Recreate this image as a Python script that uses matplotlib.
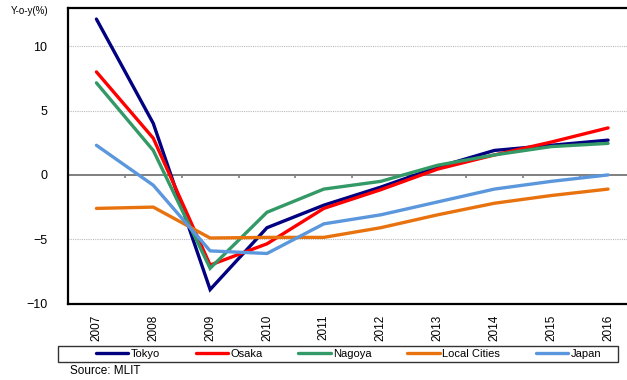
import matplotlib
matplotlib.use("Agg")
import matplotlib.pyplot as plt
from matplotlib.patches import Rectangle
import numpy as np

plt.rcParams['font.family'] = ['Liberation Sans', 'DejaVu Sans']

years = ["2007", "2008", "2009", "2010", "2011", "2012", "2013", "2014", "2015", "2016"]

tokyo = [12.1, 4.0, -8.9, -4.1, -2.35, -0.95, 0.6, 1.9, 2.3, 2.7]
osaka = [8.0, 2.85, -7.0, -5.35, -2.6, -1.15, 0.45, 1.55, 2.55, 3.65]
nagoya = [7.15, 1.9, -7.25, -2.9, -1.1, -0.5, 0.75, 1.55, 2.2, 2.45]
local_cities = [-2.6, -2.5, -4.9, -4.85, -4.85, -4.1, -3.1, -2.2, -1.6, -1.1]
japan = [2.3, -0.8, -5.9, -6.1, -3.8, -3.1, -2.1, -1.1, -0.5, 0.0]

y_ticks = [10, 5, 0, -5, -10]
y_tick_labels = ["10", "5", "0", "\u22125", "\u221210"]

series = [
    ("Tokyo", tokyo, "#000080"),
    ("Osaka", osaka, "#FF0000"),
    ("Nagoya", nagoya, "#339966"),
    ("Local Cities", local_cities, "#E8730E"),
    ("Japan", japan, "#5B97DC"),
]

fig = plt.figure(figsize=(6.27, 3.80), dpi=100)
ax = fig.add_axes([68 / 627, 76.3 / 380, 568.5 / 627, 296.2 / 380])

x = np.arange(len(years))

# dotted horizontal gridlines and the zero baseline
for yv in (10, 5, -5):
    ax.axhline(yv, color="#BBBBBB", lw=0.8, ls=(0, (1, 1)), zorder=0)
ax.axhline(0, color="#7F7F7F", lw=1.4, zorder=1)
# category boundary ticks hanging below the zero baseline
ax.vlines(np.arange(len(years) - 1) + 0.5, -0.25, 0, color="#7F7F7F", lw=1.2, zorder=1)

handles = []
for name, vals, col in series:
    h, = ax.plot(x, vals, color=col, lw=2.4, label=name, solid_capstyle="round",
                 solid_joinstyle="miter", zorder=3)
    handles.append(h)

ax.set_xlim(-0.5, len(years) - 0.5)
ax.set_ylim(-10, 13)
ax.set_yticks(y_ticks)
ax.set_yticklabels(y_tick_labels, fontsize=9)
ax.tick_params(axis="y", length=0, pad=15)
ax.set_xticks(x)
ax.set_xticklabels(years, rotation=90, fontsize=8.5)
ax.tick_params(axis="x", length=0, pad=8)

for side in ("top", "left", "bottom", "right"):
    ax.spines[side].set_color("black")
    ax.spines[side].set_linewidth(1.6)

fig.text(11 / 627, 1 - 11 / 380, "Y-o-y(%)", fontsize=7, va="center", ha="left")

# legend frame
fig.patches.append(Rectangle((58 / 627, (380 - 362.3) / 380), 560 / 627, 16.6 / 380,
                             transform=fig.transFigure, fill=False,
                             edgecolor="#333333", lw=1.0))
fig.legend(handles=handles, loc="center left", ncol=5, frameon=False,
           bbox_to_anchor=(95.7 / 627, (380 - 354) / 380), bbox_transform=fig.transFigure,
           fontsize=8, handlelength=2.9, handletextpad=0.25, columnspacing=3.2,
           borderpad=0, borderaxespad=0)

fig.text(70 / 627, 1 - 371 / 380, "Source: MLIT", fontsize=8.5, va="center", ha="left")

fig.savefig("out.png", dpi=100)
